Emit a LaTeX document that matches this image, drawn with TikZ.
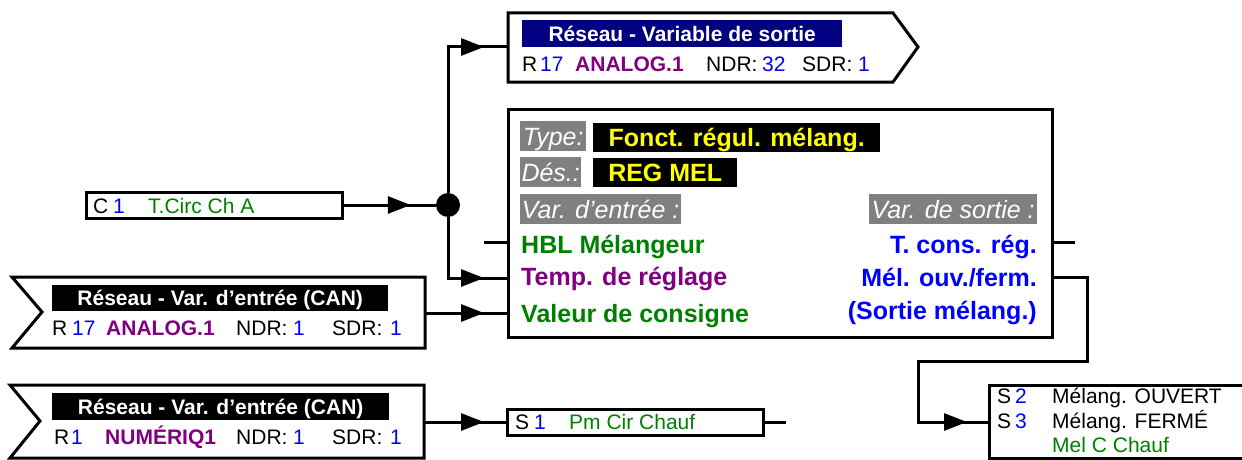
\documentclass[tikz,border=0pt]{standalone}
\usepackage{fontspec}
\setmainfont{Liberation Sans}
\usetikzlibrary{arrows.meta,decorations.markings,positioning}
\definecolor{hdrNavy}{RGB}{0,0,128}
\definecolor{labGrey}{RGB}{128,128,128}
\definecolor{numBlue}{RGB}{0,0,255}
\definecolor{varPurple}{RGB}{128,0,128}
\definecolor{varGreen}{RGB}{0,128,0}
\definecolor{valYellow}{RGB}{255,255,0}
\newcommand{\bigtxt}{\fontsize{25pt}{30pt}\selectfont}
\newcommand{\smalltxt}{\fontsize{21pt}{25pt}\selectfont}
\tikzset{
  boxline/.style={line width=3pt, line join=miter},
  wire/.style={line width=3pt},
  arrowin/.style={postaction={decorate}, decoration={markings,
      mark=at position -#1 with {\arrow{Triangle[length=23pt,width=17pt]}}}},
  arrowin/.default=24pt,
  sbox/.style={draw, boxline, anchor=north west, inner sep=0pt, outer sep=0pt},
  jdot/.style={circle, fill=black, minimum size=24pt, inner sep=0pt},
  hdr/.style={fill=#1, text=white, font=\smalltxt\bfseries, anchor=north west,
      inner sep=0pt, text height=15pt, text depth=0pt},
  greylab/.style={fill=labGrey, text=white, font=\bigtxt\itshape, anchor=north west,
      inner sep=0pt, minimum height=30pt, text height=18pt, text depth=0pt},
  blklab/.style={fill=black, text=valYellow, font=\bigtxt\bfseries, anchor=north west,
      inner sep=0pt, minimum height=29pt, text height=18pt, text depth=0pt},
  txt/.style={anchor=base west, inner sep=0pt, font=\smalltxt},
  txtb/.style={anchor=base west, inner sep=0pt, font=\smalltxt\bfseries},
  lbl/.style={anchor=base west, inner sep=0pt, font=\bigtxt\bfseries},
  rlbl/.style={anchor=base east, inner sep=0pt, font=\bigtxt\bfseries}
}
\begin{document}
\begin{tikzpicture}[x=1pt, y=-1pt]
\useasboundingbox (0,0) rectangle (1242,460);
% output to the network
\draw[boxline] (508,13) -- (893,13) -- (918,47) -- (893,82) -- (508,82) -- cycle;
\coordinate (sortie) at (508,47);
\node[hdr=hdrNavy, minimum width=320pt, minimum height=27pt] (sortieHdr) at (522,20) {Réseau - Variable de sortie};
\node[txt] (sR) at (522,71) {R};
\node[txt, numBlue] (sRn) at (540,71) {17};
\node[txtb, varPurple] (sVar) at (575,71) {ANALOG.1};
\node[txt] (sNdr) at (706,71) {NDR:};
\node[txt, numBlue] (sNdrn) at (762,71) {32};
\node[txt] (sSdr) at (802,71) {SDR:};
\node[txt, numBlue] (sSdrn) at (858,71) {1};
% function block
\node[sbox, minimum width=544pt, minimum height=228pt] (fb) at (508,109) {};
\node[greylab, minimum width=66pt] (typeLab) at (520,121) {Type:};
\node[blklab, minimum width=287pt] (typeVal) at (593,123) {Fonct. régul. mélang.};
\node[greylab, minimum width=61pt] (desLab) at (520,157) {Dés.:};
\node[blklab, minimum width=144pt] (desVal) at (593,158) {REG MEL};
\node[greylab, minimum width=161pt] (inLab) at (520,194) {Var. d’entrée :};
\node[greylab, minimum width=168pt] (outLab) at (869,194) {Var. de sortie :};
\node[lbl, varGreen] (hbl) at (521,253) {HBL Mélangeur};
\node[lbl, varPurple] (temp) at (521,285) {Temp. de réglage};
\node[lbl, varGreen] (val) at (521,322) {Valeur de consigne};
\node[rlbl, numBlue] (tcons) at (1037,253) {T. cons. rég.};
\node[rlbl, numBlue] (melof) at (1037,286) {Mél. ouv./ferm.};
\node[rlbl, numBlue] (melof2) at (1037,319) {(Sortie mélang.)};
\coordinate (inHBL) at (484,242);
\coordinate (inTemp) at (508,278);
\coordinate (inVal) at (508,313);
\coordinate (outTcons) at (1075,242);
\coordinate (outMel) at (1087,277);
% constant C1
\node[sbox, minimum width=256pt, minimum height=26pt] (c1) at (86,192) {};
\node[txt] (cC) at (93,213) {C};
\node[txt, numBlue] (cCn) at (113,213) {1};
\node[txt, varGreen] (cName) at (148,213) {T.Circ Ch A};
\node[jdot] (jn) at (448,205) {};
% network inputs
\draw[boxline] (12,277) -- (425,277) -- (425,348) -- (12,348) -- (42,312) -- cycle;
\coordinate (can1) at (425,313);
\node[hdr=black, minimum width=336pt, minimum height=26pt] (can1Hdr) at (52,285) {Réseau - Var. d’entrée (CAN)};
\node[txt] (aR) at (52,335) {R};
\node[txt, numBlue] (aRn) at (72,335) {17};
\node[txtb, varPurple] (aVar) at (106,335) {ANALOG.1};
\node[txt] (aNdr) at (236,335) {NDR:};
\node[txt, numBlue] (aNdrn) at (293,335) {1};
\node[txt] (aSdr) at (332,335) {SDR:};
\node[txt, numBlue] (aSdrn) at (390,335) {1};
\draw[boxline] (10,385) -- (424,385) -- (424,458) -- (10,458) -- (40,421) -- cycle;
\coordinate (can2) at (424,422);
\node[hdr=black, minimum width=337pt, minimum height=27pt] (can2Hdr) at (52,393) {Réseau - Var. d’entrée (CAN)};
\node[txt] (bR) at (54,444) {R};
\node[txt, numBlue] (bRn) at (71,444) {1};
\node[txtb, varPurple] (bVar) at (105,444) {NUMÉRIQ1};
\node[txt] (bNdr) at (236,444) {NDR:};
\node[txt, numBlue] (bNdrn) at (293,444) {1};
\node[txt] (bSdr) at (332,444) {SDR:};
\node[txt, numBlue] (bSdrn) at (390,444) {1};
% outputs S1, S2/S3
\node[sbox, minimum width=256pt, minimum height=26pt] (s1) at (507,409) {};
\node[txt] (s1S) at (515,429) {S};
\node[txt, numBlue] (s1n) at (534,429) {1};
\node[txt, varGreen] (s1Name) at (569,429) {Pm Cir Chauf};
\coordinate (s1End) at (786,422);
\draw[boxline] (1242,385) -- (989,385) -- (989,458) -- (1242,458);
\coordinate (s23) at (989,422);
\node[txt] (s2S) at (997,403) {S};
\node[txt, numBlue] (s2n) at (1015,403) {2};
\node[txt] (s2Name) at (1052,403) {Mélang. OUVERT};
\node[txt] (s3S) at (997,428) {S};
\node[txt, numBlue] (s3n) at (1015,428) {3};
\node[txt] (s3Name) at (1052,428) {Mélang. FERMÉ};
\node[txt, varGreen] (s3Tag) at (1052,452) {Mel C Chauf};
% connections
\draw[wire, arrowin=25pt] (c1.east) -- (jn);
\draw[wire, arrowin] (jn) |- (sortie);
\draw[wire, arrowin] (jn) |- (inTemp);
\draw[wire] (inHBL) -- (inHBL -| fb.west);
\draw[wire, arrowin] (can1) -- (inVal);
\draw[wire] (outTcons -| fb.east) -- (outTcons);
\draw[wire, arrowin=22pt] (outMel -| fb.east) -- (outMel) -- (1087,361) -- (918,361) |- (s23);
\draw[wire, arrowin=23pt] (can2) -- (s1);
\draw[wire] (s1.east) -- (s1End);
\end{tikzpicture}
\end{document}
